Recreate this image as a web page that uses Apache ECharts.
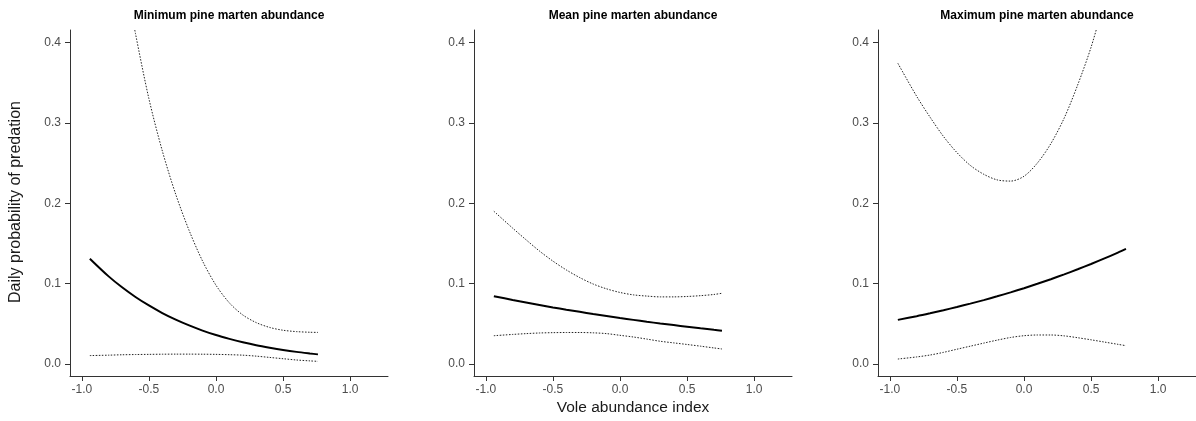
<!DOCTYPE html>
<html>
<head>
<meta charset="utf-8">
<script src="https://cdn.jsdelivr.net/npm/echarts@6/dist/echarts.min.js"></script>
<style>
html,body{margin:0;padding:0;background:#fff;}
#chart{width:1196px;height:421px;}
</style>
</head>
<body>
<div id="chart"></div>
<script>
// ---- Data ----
const panelTitles = ["Minimum pine marten abundance", "Mean pine marten abundance", "Maximum pine marten abundance"];
const xTicks = [-1.0, -0.5, 0.0, 0.5, 1.0];
const yTicks = [0.0, 0.1, 0.2, 0.3, 0.4];
const voleIndex = [-0.94, -0.8, -0.7, -0.6, -0.5, -0.4, -0.3, -0.2, -0.1, 0.0, 0.1, 0.2, 0.3, 0.4, 0.5, 0.6, 0.7, 0.76];

// Minimum pine marten abundance
const minMean  = [0.131, 0.109, 0.0954, 0.0834, 0.0728, 0.0634, 0.0552, 0.048, 0.0416, 0.036, 0.0313, 0.0271, 0.0234, 0.0203, 0.0175, 0.0151, 0.0131, 0.012];
const minUpper = [null, null, 0.50, 0.411, 0.330, 0.265, 0.211, 0.166, 0.128, 0.098, 0.076, 0.061, 0.0515, 0.0455, 0.042, 0.0403, 0.0395, 0.0393];
const minLower = [0.0105, 0.011, 0.0115, 0.0118, 0.012, 0.0122, 0.0123, 0.0123, 0.0122, 0.012, 0.0116, 0.011, 0.0098, 0.0082, 0.0066, 0.005, 0.0039, 0.0033];

// Mean pine marten abundance
const meanMean  = [0.0844, 0.0797, 0.0766, 0.0735, 0.0704, 0.0676, 0.0649, 0.0622, 0.0597, 0.0572, 0.0549, 0.0526, 0.0504, 0.0484, 0.0464, 0.0444, 0.0425, 0.0415];
const meanUpper = [0.190, 0.169, 0.1545, 0.1405, 0.128, 0.117, 0.1075, 0.0995, 0.0935, 0.089, 0.086, 0.0845, 0.0835, 0.0835, 0.084, 0.085, 0.0865, 0.088];
const meanLower = [0.0352, 0.0368, 0.0378, 0.0386, 0.039, 0.0392, 0.0392, 0.0388, 0.0378, 0.0357, 0.0336, 0.031, 0.0283, 0.0263, 0.0243, 0.0222, 0.0200, 0.0187];

// Maximum pine marten abundance
const maxMean  = [0.0549, 0.0595, 0.0631, 0.0669, 0.0709, 0.0751, 0.0795, 0.0842, 0.0891, 0.0943, 0.0998, 0.1055, 0.1115, 0.1178, 0.1244, 0.1313, 0.1386, 0.1432];
const maxUpper = [0.374, 0.333, 0.307, 0.283, 0.263, 0.247, 0.236, 0.229, 0.2275, 0.2335, 0.250, 0.274, 0.306, 0.347, 0.394, 0.452, null, null];
const maxLower = [0.0062, 0.0088, 0.0112, 0.0145, 0.0184, 0.0222, 0.026, 0.0297, 0.033, 0.0352, 0.0361, 0.0361, 0.035, 0.0327, 0.0301, 0.0273, 0.0245, 0.0228];

const panels = [
  {mean: minMean, upper: minUpper, lower: minLower},
  {mean: meanMean, upper: meanUpper, lower: meanLower},
  {mean: maxMean, upper: maxUpper, lower: maxLower}
];

// ---- Layout ----
const gridLefts = [70, 474, 878];
const gridWidth = 318, gridTop = 30, gridHeight = 346;
const FONT = "'Liberation Sans', Arial, sans-serif";

const pairs = (ys) => voleIndex.map((x, i) => [x, ys[i]]);

const grids = [], xAxes = [], yAxes = [], series = [], graphics = [];
panels.forEach((p, i) => {
  grids.push({left: gridLefts[i], top: gridTop, width: gridWidth, height: gridHeight, outerBoundsMode: 'none', containLabel: false});
  xAxes.push({
    type: 'value', gridIndex: i, min: -1.088, max: 1.282,
    axisLine: {show: true, onZero: false, lineStyle: {color: '#333', width: 1}},
    axisTick: {show: true, length: 5, lineStyle: {color: '#333'}, customValues: xTicks},
    axisLabel: {show: true, margin: 8, color: '#4d4d4d', fontSize: 12, fontFamily: FONT,
      customValues: xTicks, formatter: v => v.toFixed(1)},
    splitLine: {show: false}
  });
  yAxes.push({
    type: 'value', gridIndex: i, min: -0.0149, max: 0.4154,
    axisLine: {show: true, onZero: false, lineStyle: {color: '#333', width: 1}},
    axisTick: {show: true, length: 5, lineStyle: {color: '#333'}, customValues: yTicks},
    axisLabel: {show: true, margin: 9, color: '#4d4d4d', fontSize: 12, fontFamily: FONT,
      customValues: yTicks, formatter: v => v.toFixed(1)},
    splitLine: {show: false}
  });
  const common = {type: 'line', xAxisIndex: i, yAxisIndex: i, showSymbol: false, symbol: 'none', smooth: 0.3, clip: true, silent: true, animation: false};
  series.push(Object.assign({}, common, {data: pairs(p.upper), lineStyle: {color: '#222', width: 1, type: [1.5, 1.5]}}));
  series.push(Object.assign({}, common, {data: pairs(p.lower), lineStyle: {color: '#222', width: 1, type: [1.5, 1.5]}}));
  series.push(Object.assign({}, common, {data: pairs(p.mean), lineStyle: {color: '#000', width: 2}}));
  graphics.push({
    type: 'text', x: gridLefts[i] + gridWidth / 2, y: 16,
    style: {text: panelTitles[i], font: "bold 12px " + FONT, fill: '#000',
      textAlign: 'center', textVerticalAlign: 'middle', align: 'center', verticalAlign: 'middle'}
  });
});

graphics.push({
  type: 'text', x: 16, y: 202, rotation: Math.PI / 2,
  style: {text: 'Daily probability of predation', font: "16px " + FONT, fill: '#1a1a1a',
    textAlign: 'center', textVerticalAlign: 'middle', align: 'center', verticalAlign: 'middle'}
});
graphics.push({
  type: 'text', x: gridLefts[1] + gridWidth / 2, y: 408,
  style: {text: 'Vole abundance index', font: "15.5px " + FONT, fill: '#1a1a1a',
    textAlign: 'center', textVerticalAlign: 'middle', align: 'center', verticalAlign: 'middle'}
});

const chart = echarts.init(document.getElementById('chart'), null, {renderer: 'canvas'});
chart.setOption({
  animation: false,
  backgroundColor: '#fff',
  grid: grids,
  xAxis: xAxes,
  yAxis: yAxes,
  series: series,
  graphic: graphics
});
</script>
</body>
</html>
